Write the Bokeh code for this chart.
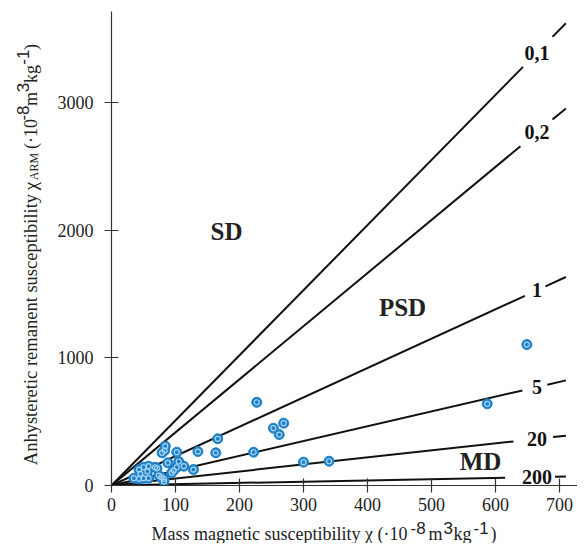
import math
from bokeh.plotting import figure
from bokeh.models import Range1d, Label, FixedTicker
from bokeh.layouts import row, column
from bokeh.embed import file_html
from bokeh.resources import INLINE

# ---- data ----
x_ticks = [0, 100, 200, 300, 400, 500, 600, 700]
y_ticks = [0, 1000, 2000, 3000]

# reference lines (grain size, um) : slope of chi_ARM vs chi
grain_labels = ["0,1", "0,2", "1", "5", "20", "200"]
grain_slopes = [5.10, 4.16, 2.30, 1.16, 0.55, 0.10]
gap_start = [643, 639, 646, 642, 628, 615]
gap_end = [689, 689, 678, 681, 690, 693]
line_end = 710
label_x = 665

# samples
chi = [649, 587, 227, 253, 269, 262, 166, 163, 222, 300, 340, 135,
       84, 83, 79, 102, 88, 105, 102, 113, 128, 97, 94, 43,
       50, 58, 68, 71, 56, 45, 35, 43, 50, 58, 74, 82, 78, 82]
chi_arm = [1104, 640, 652, 449, 488, 399, 366, 256, 261, 183, 190, 266,
           308, 274, 256, 261, 178, 188, 143, 151, 125, 117, 99, 125,
           143, 151, 143, 135, 110, 92, 57, 52, 57, 57, 78, 52, 65, 31]

region_labels = ["SD", "PSD", "MD"]

serif, sans = "Liberation Serif", "Liberation Sans"
INK = "#222222"

# ---- layout geometry (pixels) ----
TOTAL_W, TOTAL_H = 577, 543
YT_W = 52            # y-title strip
MAIN_H = 517         # main figure height
XT_H = TOTAL_H - MAIN_H
X0, Y0 = 111.0, 485.0        # pixel of data origin
SX = 0.64
XMAX = (TOTAL_W - X0) / SX
YMAX = 3713.0
SY = (Y0 - 11.0) / YMAX


def dx(px):
    return (px - X0) / SX


def dy(py):
    return (Y0 - py) / SY


p = figure(width=TOTAL_W - YT_W, height=MAIN_H, output_backend="svg",
           toolbar_location=None,
           x_range=Range1d(0, XMAX), y_range=Range1d(0, YMAX),
           min_border_left=int(X0 - YT_W), min_border_right=0,
           min_border_top=11, min_border_bottom=int(MAIN_H - Y0))
p.grid.visible = False
p.outline_line_color = None

for ax in (p.xaxis[0], p.yaxis[0]):
    ax.axis_line_color = "#333333"
    ax.axis_line_width = 1.2
    ax.major_tick_line_color = "#333333"
    ax.major_tick_line_width = 1.2
    ax.major_tick_in = 7
    ax.major_tick_out = 7
    ax.minor_tick_line_color = None
    ax.major_label_text_font = serif
    ax.major_label_text_font_size = "18px"
    ax.major_label_text_color = INK
p.xaxis.ticker = FixedTicker(ticks=x_ticks)
p.yaxis.ticker = FixedTicker(ticks=y_ticks)
p.xaxis.major_label_standoff = 5
p.yaxis.major_label_standoff = 11

# reference lines
x0s = [0] * len(grain_slopes)
p.segment(x0=x0s, y0=x0s, x1=gap_start,
          y1=[s * g for s, g in zip(grain_slopes, gap_start)],
          line_color="#111111", line_width=2)
p.segment(x0=gap_end, y0=[s * g for s, g in zip(grain_slopes, gap_end)],
          x1=[line_end] * len(grain_slopes),
          y1=[s * line_end for s in grain_slopes],
          line_color="#111111", line_width=2)
for lab, s in zip(grain_labels, grain_slopes):
    p.add_layout(Label(x=label_x, y=s * label_x, text=lab, text_align="center",
                       text_baseline="middle", text_font=serif,
                       text_font_style="bold", text_font_size="20px",
                       text_color="#111111"))

# region labels
for lab, (px, py) in zip(region_labels, [(226, 231), (402, 307), (480, 461)]):
    p.add_layout(Label(x=dx(px), y=dy(py), text=lab, text_align="center",
                       text_baseline="middle", text_font=serif,
                       text_font_style="bold", text_font_size="25px",
                       text_color=INK))

# samples
p.scatter(chi, chi_arm, size=10, fill_color="#1f80c8", line_color="#1f80c8")
p.scatter(chi, chi_arm, size=5, fill_color=None, line_color="#a8d6f2",
          line_width=1.2)


def blank(w, h):
    f = figure(width=w, height=h, output_backend="svg", toolbar_location=None,
               x_range=Range1d(0, w), y_range=Range1d(0, h),
               x_axis_type=None, y_axis_type=None, min_border=0)
    f.grid.visible = False
    f.outline_line_color = None
    return f


# y axis title strip (pieces, rotated; x = centre line, y = start/end)
yt_fig = blank(YT_W, MAIN_H)
yt = [("Anhysteretic remanent susceptibility", 30, 199, serif, "18.5px", "right"),
      ("\u03c7", 30, 195, serif, "19px", "left"),
      ("ARM", 33, 184, serif, "12px", "left"),
      ("(\u00b710", 30, 150, serif, "18px", "left"),
      ("-8", 22, 119, sans, "17px", "left"),
      ("m", 30, 103, serif, "18px", "left"),
      ("3", 22, 88, sans, "17px", "left"),
      ("kg", 30, 78, serif, "18px", "left"),
      ("-1", 22, 58, sans, "17px", "left"),
      (")", 30, 42, serif, "18px", "left")]
for t, px, py, f, fs, al in yt:
    yt_fig.add_layout(Label(x=px, y=MAIN_H - py, text=t, angle=math.pi / 2,
                            text_align=al, text_baseline="middle",
                            text_font=f, text_font_size=fs, text_color=INK))

# x axis title strip (pieces; x = start/end, y = centre line)
xt_fig = blank(TOTAL_W, XT_H)
xt = [("Mass magnetic susceptibility \u03c7 (\u00b710", 407, 533, serif, "18px", "right"),
      ("-8", 410, 527, sans, "17px", "left"),
      ("m", 428, 533, serif, "18px", "left"),
      ("3", 443, 527, sans, "17px", "left"),
      ("kg", 453, 533, serif, "18px", "left"),
      ("-1", 473, 527, sans, "17px", "left"),
      (")", 490, 533, serif, "18px", "left")]
for t, px, py, f, fs, al in xt:
    xt_fig.add_layout(Label(x=px, y=TOTAL_H - py, text=t, text_align=al,
                            text_baseline="middle", text_font=f,
                            text_font_size=fs, text_color=INK))

layout = column(row(yt_fig, p, spacing=0), xt_fig, spacing=0)
open("out.html", "w").write(file_html(layout, INLINE))
